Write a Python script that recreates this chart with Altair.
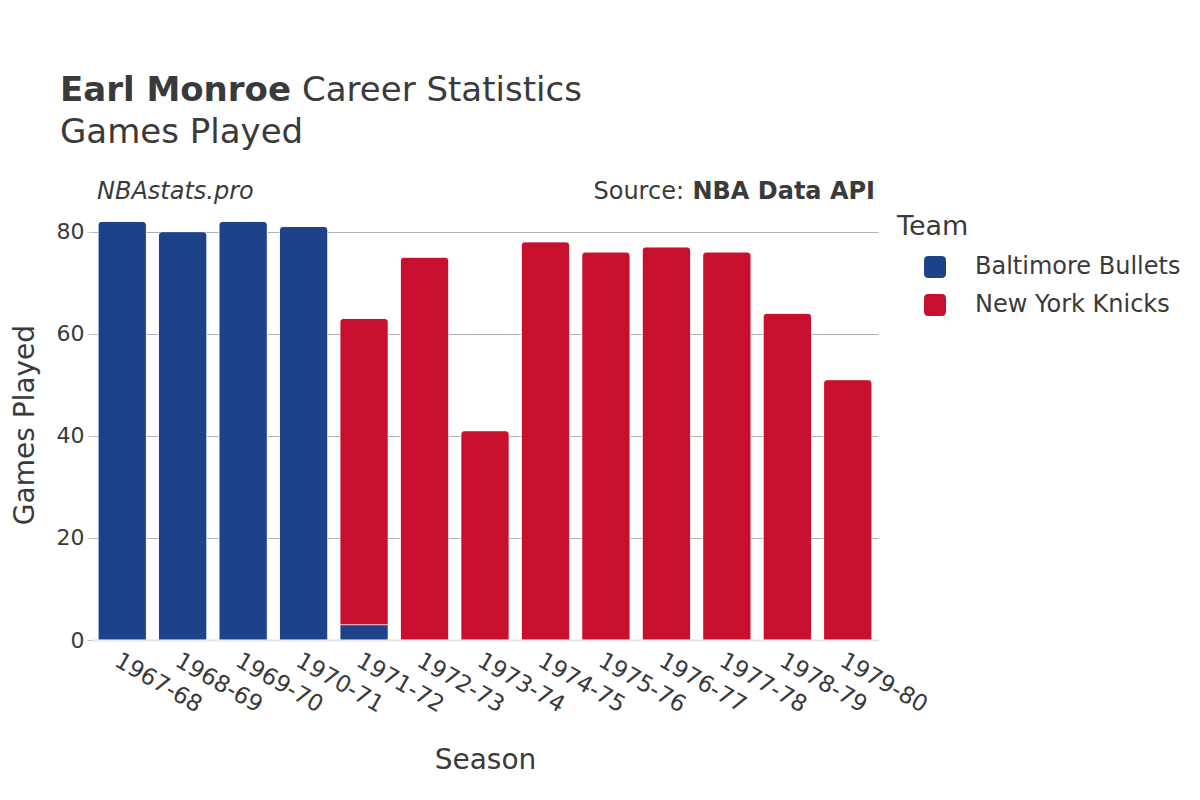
import altair as alt
import pandas as pd

seasons = ["1967-68", "1968-69", "1969-70", "1970-71", "1971-72", "1972-73", "1973-74",
           "1974-75", "1975-76", "1976-77", "1977-78", "1978-79", "1979-80"]
bullets_seasons = ["1967-68", "1968-69", "1969-70", "1970-71", "1971-72"]
bullets_games = [82, 80, 82, 81, 3]
knicks_seasons = ["1971-72", "1972-73", "1973-74", "1974-75", "1975-76", "1976-77",
                  "1977-78", "1978-79", "1979-80"]
knicks_games = [60, 75, 41, 78, 76, 77, 76, 64, 51]
teams = ["Baltimore Bullets", "New York Knicks"]
team_colors = ["#1D428A", "#C8102E"]

rows = []
for s, g in zip(bullets_seasons, bullets_games):
    rows.append({"Season": s, "Team": teams[0], "Games": g, "ord": 0})
for s, g in zip(knicks_seasons, knicks_games):
    rows.append({"Season": s, "Team": teams[1], "Games": g, "ord": 1})
df = pd.DataFrame(rows)

FONT = "DejaVu Sans"
TXT = "#3a3a3a"
W, H = 786, 439

rounded = "M -0.6 -1 L 0.6 -1 Q 1 -1 1 -0.6 L 1 0.6 Q 1 1 0.6 1 L -0.6 1 Q -1 1 -1 0.6 L -1 -0.6 Q -1 -1 -0.6 -1 Z"

bars = alt.Chart(df).mark_bar(
    cornerRadiusTopLeft=4, cornerRadiusTopRight=4, stroke="white", strokeWidth=0.6
).encode(
    x=alt.X("Season:N", sort=seasons,
            scale=alt.Scale(domain=seasons, paddingInner=0.2, paddingOuter=0.1),
            axis=alt.Axis(title="Season", labelAngle=30, labelAlign="left", labelBaseline="top",
                          labelFontSize=23, labelColor=TXT, labelFont=FONT, labelPadding=9,
                          ticks=False, domainColor="#e4e4e4", domainWidth=2,
                          titleFontSize=28, titleFont=FONT, titleColor=TXT, titleFontWeight="normal",
                          titleY=106, titleBaseline="top")),
    y=alt.Y("Games:Q", stack="zero",
            scale=alt.Scale(domain=[0, 86], nice=False),
            axis=alt.Axis(title="Games Played", values=[0, 20, 40, 60, 80], domain=False,
                          ticks=True, tickSize=5, tickColor="#c8c8c8", tickWidth=1,
                          labelFontSize=22, labelColor=TXT, labelFont=FONT, labelPadding=3,
                          gridColor="#b0b0b0", gridWidth=1,
                          titleFontSize=28, titleFont=FONT, titleColor=TXT, titleFontWeight="normal",
                          titleX=-67, titleY=H / 2 + 4, titleAngle=270, titleAlign="center",
                          titleBaseline="middle")),
    color=alt.Color("Team:N", scale=alt.Scale(domain=teams, range=team_colors),
                    legend=alt.Legend(title="Team", orient="none", legendX=805, legendY=13,
                                      titleFontSize=27, titleFont=FONT, titleColor=TXT,
                                      titleFontWeight="normal", titlePadding=14,
                                      labelFontSize=24, labelFont=FONT, labelColor=TXT,
                                      labelLimit=0,
                                      symbolType=rounded, symbolSize=484, symbolStrokeWidth=0,
                                      symbolOpacity=1, symbolOffset=26, labelOffset=28,
                                      rowPadding=14)),
    order=alt.Order("ord:Q", sort="ascending"),
)

one = pd.DataFrame({"a": [0]})


def txt(text, x, y, size, weight="normal", style="normal", align="left"):
    return alt.Chart(one).mark_text(
        text=text, font=FONT, fontSize=size, fontWeight=weight, fontStyle=style,
        align=align, baseline="alphabetic", color=TXT
    ).encode(x=alt.value(x), y=alt.value(y))


layers = [
    bars,
    txt("Earl Monroe", -32, -100, 34, weight="bold"),
    txt("Career Statistics", 210, -100, 34),
    txt("Games Played", -32, -58, 34),
    txt("NBAstats.pro", 5, -2, 24, style="italic"),
    txt("Source:", 592, -2, 24, align="right"),
    txt("NBA Data API", 783, -2, 24, weight="bold", align="right"),
]

chart = alt.layer(*layers).properties(
    width=W, height=H,
    autosize=alt.AutoSizeParams(type="none"),
    padding={"left": 84, "top": 193, "right": 314, "bottom": 152},
).configure(background="white").configure_view(stroke="transparent", strokeWidth=0)

chart.save("out.html", embed_options={"renderer": "svg", "actions": False})
